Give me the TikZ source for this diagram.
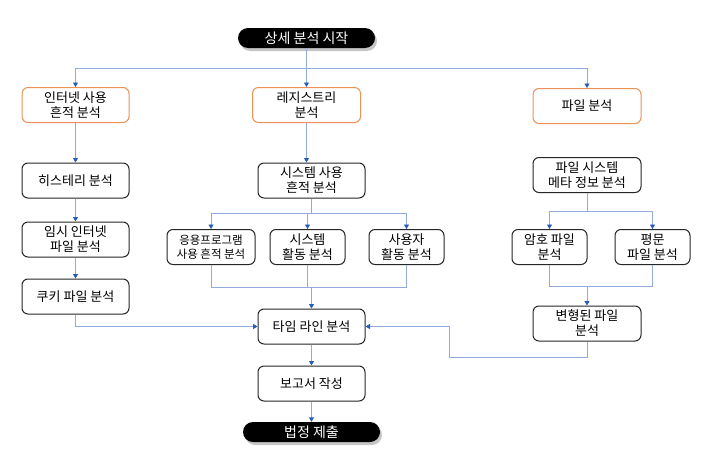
\documentclass[tikz,border=0pt]{standalone}
\usepackage{fontspec}
\setmainfont{Noto Sans CJK KR}
\usetikzlibrary{arrows.meta,shadows}
\definecolor{linkblue}{RGB}{145,172,220}
\definecolor{tipblue}{RGB}{40,92,182}
\definecolor{boxorange}{RGB}{238,145,85}
\tikzset{
	box/.style={draw=black!85, line width=1pt, rounded corners=6pt, fill=white, align=center, minimum height=35pt, inner sep=1pt, font=\fontsize{13}{15}\selectfont},
	topbox/.style={box, draw=boxorange},
	term/.style={fill=black, text=white, rounded corners=10pt, minimum width=137pt, minimum height=20pt, inner sep=1pt, font=\fontsize{14}{15}\selectfont, drop shadow={shadow xshift=2pt, shadow yshift=-3pt, opacity=0.45}},
	link/.style={draw=linkblue, line width=0.9pt},
	arr/.style={link, -{Triangle[length=4.5pt,width=5pt,color=tipblue]}}
}

\begin{document}
\begin{tikzpicture}[x=1pt,y=-1pt]
	\useasboundingbox (0,0) rectangle (720,455);
	\node[term] (start) at (306.5,38) {상세 분석 시작};
	\node[topbox, minimum width=107pt] (inet) at (75.5,105) {인터넷 사용\\흔적 분석};
	\node[topbox, minimum width=108pt] (reg) at (306.5,105) {레지스트리\\분석};
	\node[topbox, minimum width=108pt] (file) at (587,106) {파일 분석};
	\node[box, minimum width=107pt] (hist) at (75.5,180.5) {히스테리 분석};
	\node[box, minimum width=107pt] (sysuse) at (311.5,180.5) {시스템 사용\\흔적 분석};
	\node[box, minimum width=108pt] (meta) at (587,175) {파일 시스템\\메타 정보 분석};
	\node[box, minimum width=107pt] (temp) at (75.5,239.5) {임시 인터넷\\파일 분석};
	\node[box, minimum width=88pt, font=\fontsize{11.5}{14}\selectfont] (app) at (211,247) {응용프로그램\\사용 흔적 분석};
	\node[box, minimum width=75pt] (sysact) at (307.5,247) {시스템\\활동 분석};
	\node[box, minimum width=75pt] (user) at (406.5,247) {사용자\\활동 분석};
	\node[box, minimum width=75pt] (enc) at (549.5,247) {암호 파일\\분석};
	\node[box, minimum width=75pt] (plain) at (652.5,247) {평문\\파일 분석};
	\node[box, minimum width=107pt] (cookie) at (75.5,296.5) {쿠키 파일 분석};
	\node[box, minimum width=108pt] (trans) at (587,323.5) {변형된 파일\\분석};
	\node[box, minimum width=107pt] (time) at (311.5,326.5) {타임 라인 분석};
	\node[box, minimum width=107pt] (report) at (311.5,383.5) {보고서 작성};
	\node[term] (court) at (311.5,432) {법정 제출};
	\coordinate (bus) at (306.5,68);
	\coordinate (sysbus) at (311.5,213);
	\coordinate (sysjoin) at (311.5,287);
	\coordinate (metabus) at (587,211);
	\coordinate (encjoin) at (587,286);
	\coordinate (bend) at (449,357);
	\draw[link] (start.south) -- (bus);
	\draw[arr] (bus) -| (inet.north);
	\draw[arr] (bus) -- (reg.north);
	\draw[arr] (bus) -| (file.north);
	\draw[arr] (inet) -- (hist);
	\draw[arr] (hist) -- (temp);
	\draw[arr] (temp) -- (cookie);
	\draw[arr] (reg.south) -- (reg.south |- sysuse.north);
	\draw[link] (sysuse.south) -- (sysbus);
	\draw[arr] (sysbus) -| (app.north);
	\draw[arr] (sysbus) -| (user.north);
	\draw[arr] (sysbus -| sysact.north) -- (sysact.north);
	\draw[link] (app.south) |- (sysjoin);
	\draw[link] (user.south) |- (sysjoin);
	\draw[link] (sysact.south) -- (sysact.south |- sysjoin);
	\draw[arr] (sysjoin) -- (time.north);
	\draw[link] (meta.south) -- (metabus);
	\draw[arr] (metabus) -| (enc.north);
	\draw[arr] (metabus) -| (plain.north);
	\draw[link] (enc.south) |- (encjoin);
	\draw[link] (plain.south) |- (encjoin);
	\draw[arr] (encjoin) -- (trans.north);
	\draw[arr] (cookie.south) |- (time.west);
	\draw[arr] (trans.south) |- (bend) |- (time.east);
	\draw[arr] (time) -- (report);
	\draw[arr] (report) -- (court);
\end{tikzpicture}
\end{document}
